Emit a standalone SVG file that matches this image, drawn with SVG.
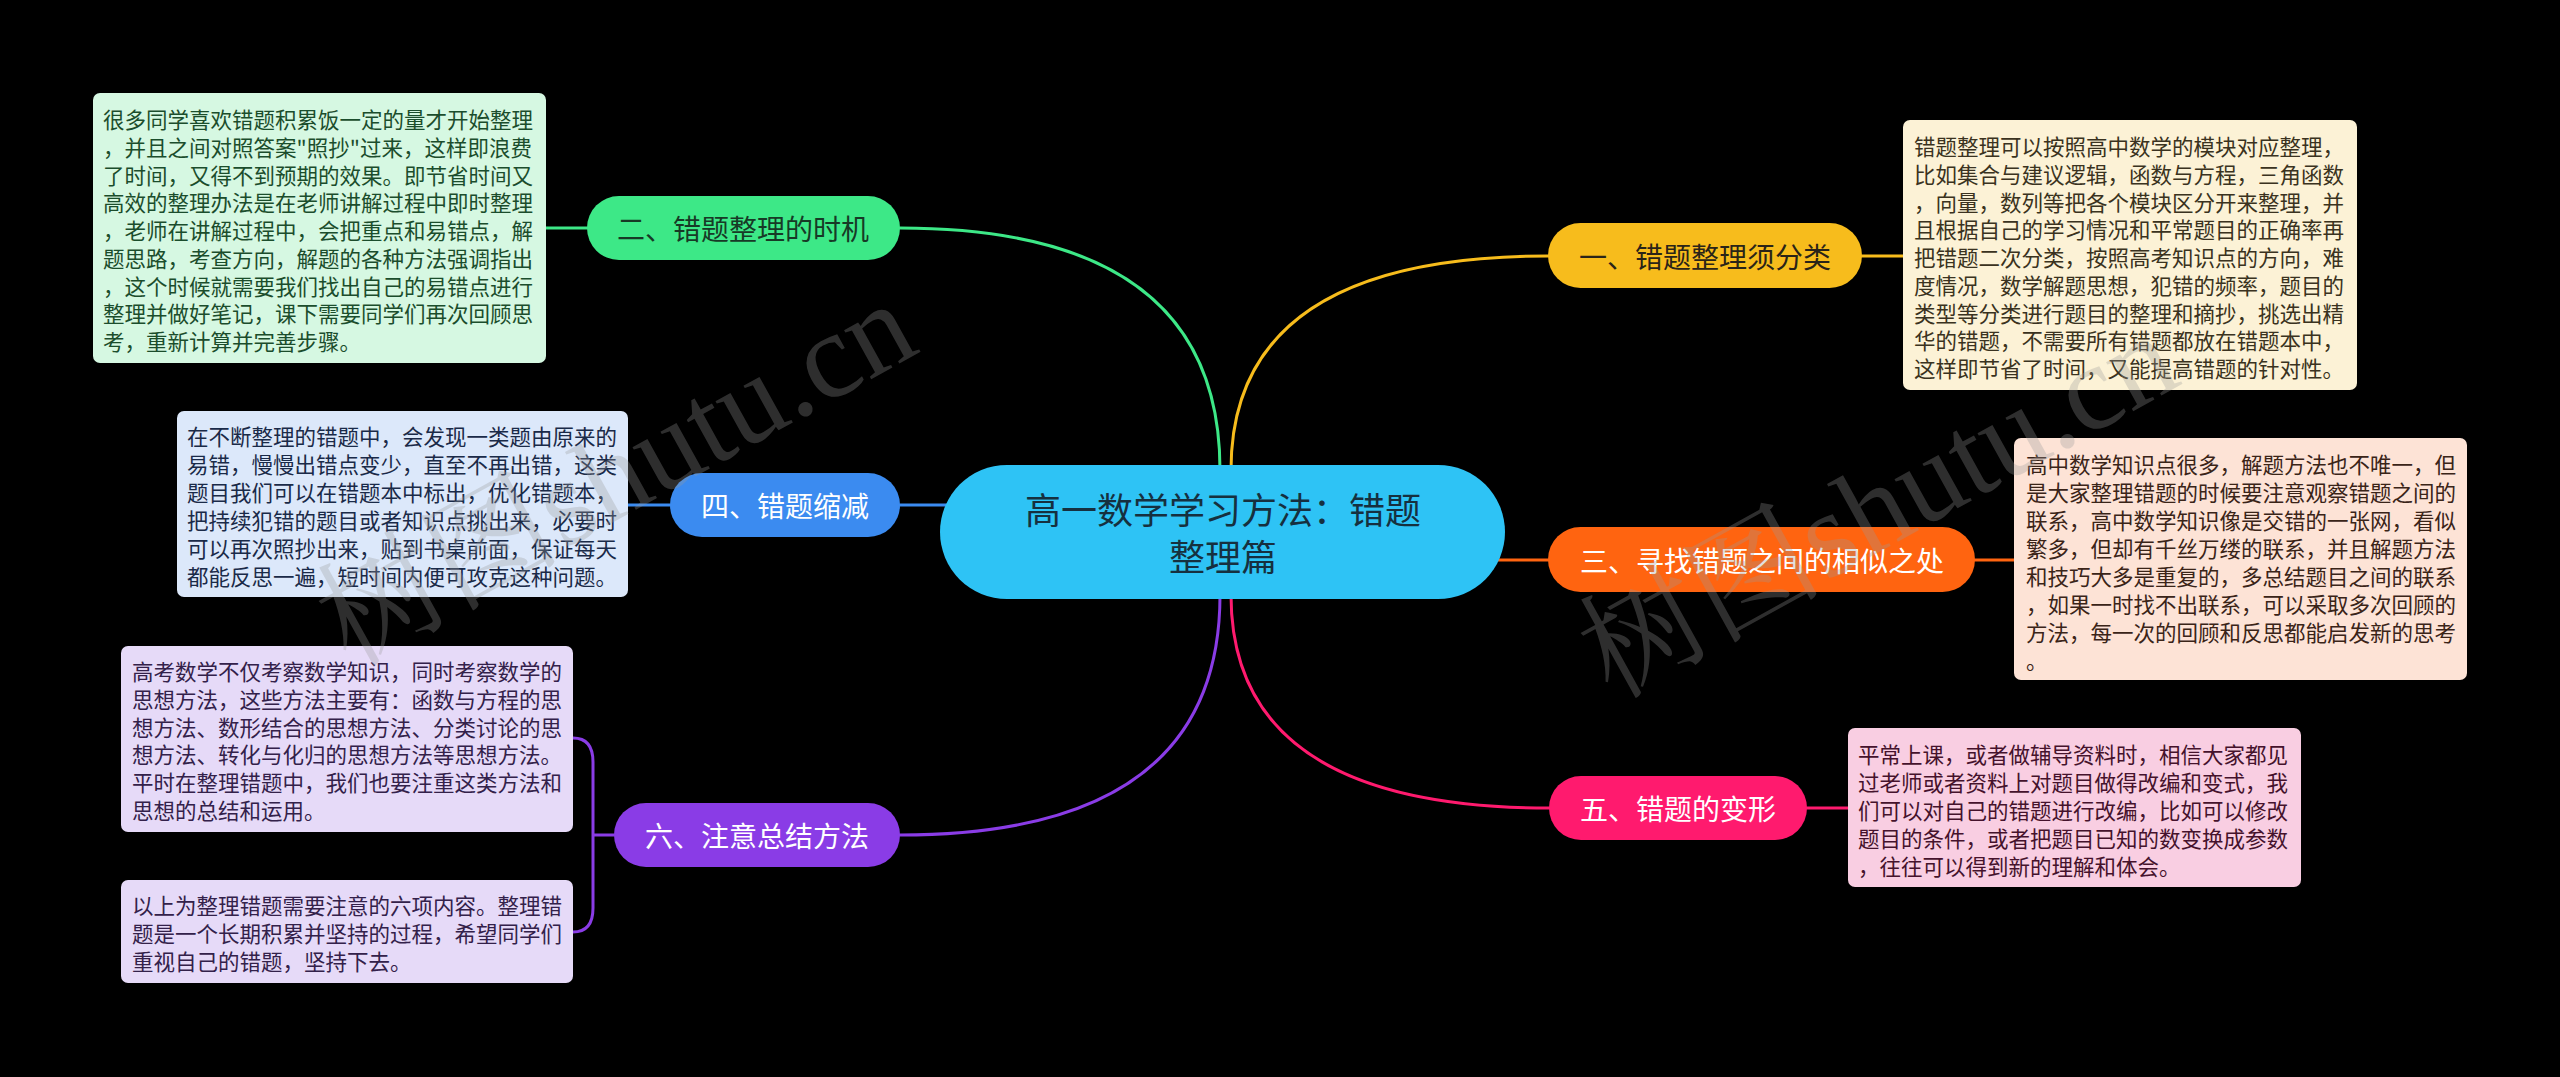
<svg xmlns="http://www.w3.org/2000/svg" width="2560" height="1077" viewBox="0 0 2560 1077">
<style>
.cjk{font-family:"Noto Sans CJK SC","Noto Sans",sans-serif;}
.det{font-size:21.5px;dominant-baseline:central;}
.br{font-size:28px;text-anchor:middle;dominant-baseline:central;}
.ln{fill:none;stroke-width:3;stroke-linecap:round;}
.wm{font-family:"Liberation Serif","Noto Serif CJK SC","Noto Sans CJK SC",serif;font-size:122px;fill:#9a9a9a;opacity:0.3;}
</style>
<rect width="2560" height="1077" fill="#000"/>
<g id="connectors">
<path class="ln" stroke="#3DE887" d="M1220 470 Q1220 228 900 228"/>
<path class="ln" stroke="#F7BC1C" d="M1231 470 Q1231 256 1548 256"/>
<path class="ln" stroke="#FF6410" d="M1490 560 L1548 560"/>
<path class="ln" stroke="#3B8BF0" d="M950 505 L900 505"/>
<path class="ln" stroke="#FF1A6E" d="M1231 595 Q1231 808 1549 808"/>
<path class="ln" stroke="#8A3CE6" d="M1220 595 Q1220 835 900 835"/>
<path class="ln" stroke="#3DE887" d="M587 228 L546 228"/>
<path class="ln" stroke="#3B8BF0" d="M670 505 L628 505"/>
<path class="ln" stroke="#F7BC1C" d="M1862 256 L1903 256"/>
<path class="ln" stroke="#FF6410" d="M1975 560 L2014 560"/>
<path class="ln" stroke="#FF1A6E" d="M1807 808 L1848 808"/>
<path class="ln" stroke="#8A3CE6" d="M614 835 L593 835 M573 738 Q593 738 593 762 L593 908 Q593 932 573 932"/>
</g>
<g id="center">
<rect x="940" y="465" width="565" height="134" rx="67" fill="#2EC3F5"/>
<text class="cjk" x="1223" y="508" font-size="36" fill="#16303f" text-anchor="middle" dominant-baseline="central">高一数学学习方法：错题</text>
<text class="cjk" x="1223" y="555" font-size="36" fill="#16303f" text-anchor="middle" dominant-baseline="central">整理篇</text>
</g>
<g id="b1">
<rect x="1548" y="223" width="314" height="65" rx="32.5" fill="#F7BC1C"/>
<text class="cjk br" x="1705" y="256" fill="#2a2418">一、错题整理须分类</text>
</g>
<g id="b2">
<rect x="587" y="196" width="313" height="64" rx="32" fill="#3DE887"/>
<text class="cjk br" x="743" y="228" fill="#173a26">二、错题整理的时机</text>
</g>
<g id="b3">
<rect x="1548" y="527" width="427" height="65" rx="32.5" fill="#FF6410"/>
<text class="cjk br" x="1762" y="560" fill="#fff">三、寻找错题之间的相似之处</text>
</g>
<g id="b4">
<rect x="670" y="473" width="230" height="64" rx="32" fill="#3B8BF0"/>
<text class="cjk br" x="785" y="505" fill="#fff">四、错题缩减</text>
</g>
<g id="b5">
<rect x="1549" y="776" width="258" height="64" rx="32" fill="#FF1A6E"/>
<text class="cjk br" x="1678" y="808" fill="#fff">五、错题的变形</text>
</g>
<g id="b6">
<rect x="614" y="803" width="286" height="64" rx="32" fill="#8A3CE6"/>
<text class="cjk br" x="757" y="835" fill="#fff">六、注意总结方法</text>
</g>
<g id="d2">
<rect x="93" y="93" width="453" height="270" rx="7" fill="#D6F8E2"/>
<text class="cjk det" fill="#1b4d2c">
<tspan x="103" y="118">很多同学喜欢错题积累饭一定的量才开始整理</tspan>
<tspan x="103" y="145.75">，并且之间对照答案"照抄"过来，这样即浪费</tspan>
<tspan x="103" y="173.5">了时间，又得不到预期的效果。即节省时间又</tspan>
<tspan x="103" y="201.25">高效的整理办法是在老师讲解过程中即时整理</tspan>
<tspan x="103" y="229">，老师在讲解过程中，会把重点和易错点，解</tspan>
<tspan x="103" y="256.75">题思路，考查方向，解题的各种方法强调指出</tspan>
<tspan x="103" y="284.5">，这个时候就需要我们找出自己的易错点进行</tspan>
<tspan x="103" y="312.25">整理并做好笔记，课下需要同学们再次回顾思</tspan>
<tspan x="103" y="340">考，重新计算并完善步骤。</tspan>
</text>
</g>
<g id="d4">
<rect x="177" y="411" width="451" height="186" rx="7" fill="#DCE8FA"/>
<text class="cjk det" fill="#1a2a48">
<tspan x="187" y="435">在不断整理的错题中，会发现一类题由原来的</tspan>
<tspan x="187" y="463">易错，慢慢出错点变少，直至不再出错，这类</tspan>
<tspan x="187" y="491">题目我们可以在错题本中标出，优化错题本，</tspan>
<tspan x="187" y="519">把持续犯错的题目或者知识点挑出来，必要时</tspan>
<tspan x="187" y="547">可以再次照抄出来，贴到书桌前面，保证每天</tspan>
<tspan x="187" y="575">都能反思一遍，短时间内便可攻克这种问题。</tspan>
</text>
</g>
<g id="d6a">
<rect x="121" y="646" width="452" height="186" rx="7" fill="#E6DAF8"/>
<text class="cjk det" fill="#33214a">
<tspan x="132" y="670">高考数学不仅考察数学知识，同时考察数学的</tspan>
<tspan x="132" y="697.8">思想方法，这些方法主要有：函数与方程的思</tspan>
<tspan x="132" y="725.6">想方法、数形结合的思想方法、分类讨论的思</tspan>
<tspan x="132" y="753.4">想方法、转化与化归的思想方法等思想方法。</tspan>
<tspan x="132" y="781.2">平时在整理错题中，我们也要注重这类方法和</tspan>
<tspan x="132" y="809">思想的总结和运用。</tspan>
</text>
</g>
<g id="d6b">
<rect x="121" y="880" width="452" height="103" rx="7" fill="#E6DAF8"/>
<text class="cjk det" fill="#33214a">
<tspan x="132" y="904">以上为整理错题需要注意的六项内容。整理错</tspan>
<tspan x="132" y="932">题是一个长期积累并坚持的过程，希望同学们</tspan>
<tspan x="132" y="960">重视自己的错题，坚持下去。</tspan>
</text>
</g>
<g id="d1">
<rect x="1903" y="120" width="454" height="270" rx="7" fill="#FCF2D6"/>
<text class="cjk det" fill="#3a3220">
<tspan x="1914" y="145">错题整理可以按照高中数学的模块对应整理，</tspan>
<tspan x="1914" y="172.75">比如集合与建议逻辑，函数与方程，三角函数</tspan>
<tspan x="1914" y="200.5">，向量，数列等把各个模块区分开来整理，并</tspan>
<tspan x="1914" y="228.25">且根据自己的学习情况和平常题目的正确率再</tspan>
<tspan x="1914" y="256">把错题二次分类，按照高考知识点的方向，难</tspan>
<tspan x="1914" y="283.75">度情况，数学解题思想，犯错的频率，题目的</tspan>
<tspan x="1914" y="311.5">类型等分类进行题目的整理和摘抄，挑选出精</tspan>
<tspan x="1914" y="339.25">华的错题，不需要所有错题都放在错题本中，</tspan>
<tspan x="1914" y="367">这样即节省了时间，又能提高错题的针对性。</tspan>
</text>
</g>
<g id="d3">
<rect x="2014" y="438" width="453" height="242" rx="7" fill="#FDE3D6"/>
<text class="cjk det" fill="#3a2418">
<tspan x="2026" y="463">高中数学知识点很多，解题方法也不唯一，但</tspan>
<tspan x="2026" y="491">是大家整理错题的时候要注意观察错题之间的</tspan>
<tspan x="2026" y="519">联系，高中数学知识像是交错的一张网，看似</tspan>
<tspan x="2026" y="547">繁多，但却有千丝万缕的联系，并且解题方法</tspan>
<tspan x="2026" y="575">和技巧大多是重复的，多总结题目之间的联系</tspan>
<tspan x="2026" y="603">，如果一时找不出联系，可以采取多次回顾的</tspan>
<tspan x="2026" y="631">方法，每一次的回顾和反思都能启发新的思考</tspan>
<tspan x="2026" y="659">。</tspan>
</text>
</g>
<g id="d5">
<rect x="1848" y="728" width="453" height="159" rx="7" fill="#F9CEE2"/>
<text class="cjk det" fill="#45122c">
<tspan x="1858" y="753">平常上课，或者做辅导资料时，相信大家都见</tspan>
<tspan x="1858" y="781">过老师或者资料上对题目做得改编和变式，我</tspan>
<tspan x="1858" y="809">们可以对自己的错题进行改编，比如可以修改</tspan>
<tspan x="1858" y="837">题目的条件，或者把题目已知的数变换成参数</tspan>
<tspan x="1858" y="865">，往往可以得到新的理解和体会。</tspan>
</text>
</g>
<g id="watermark">
<text class="wm" transform="translate(350 668) rotate(-29)">树图shutu.cn</text>
<text class="wm" transform="translate(1612 700) rotate(-29)">树图shutu.cn</text>
</g>
</svg>
